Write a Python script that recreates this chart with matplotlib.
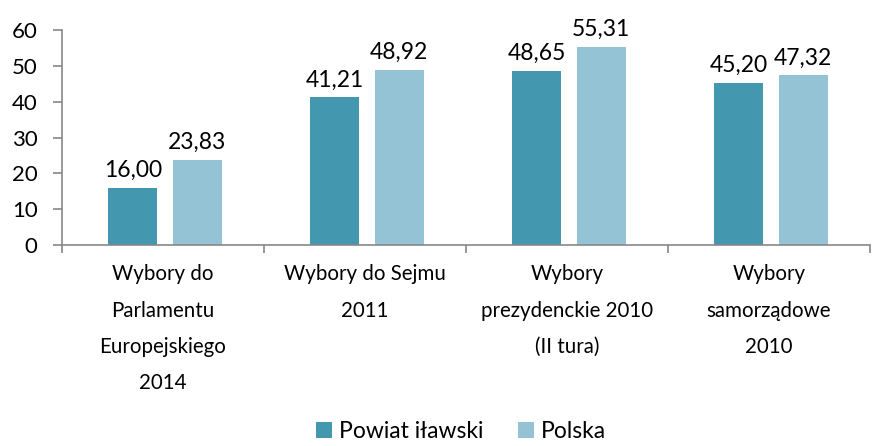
import matplotlib
matplotlib.use("Agg")
import matplotlib.pyplot as plt
import numpy as np

categories = ["Wybory do\nParlamentu\nEuropejskiego\n2014",
              "Wybory do Sejmu\n2011",
              "Wybory\nprezydenckie 2010\n(II tura)",
              "Wybory\nsamorządowe\n2010"]
powiat = [16.00, 41.21, 48.65, 45.20]
polska = [23.83, 48.92, 55.31, 47.32]
series_names = ["Powiat iławski", "Polska"]
colors = ["#4397AE", "#93C3D4"]

plt.rcParams['font.family'] = ['Lato', 'DejaVu Sans']

fig = plt.figure(figsize=(8.75, 4.46), dpi=100)
ax = fig.add_axes([62/875, 1-245/446, (870-62)/875, (245-30)/446])

x = np.arange(len(categories))
w = 0.245
off = 0.16
b1 = ax.bar(x - off + 0.01, powiat, w, color=colors[0], label=series_names[0])
b2 = ax.bar(x + off + 0.01, polska, w, color=colors[1], label=series_names[1])

def fmt(v):
    return f"{v:.2f}".replace(".", ",")

for bars, vals in ((b1, powiat), (b2, polska)):
    for r, v in zip(bars, vals):
        ax.annotate(fmt(v), (r.get_x() + r.get_width()/2, v), xytext=(0, 5),
                    textcoords="offset points", ha="center", va="bottom", fontsize=16.5)

ax.set_xlim(-0.5, len(categories) - 0.5)
ax.set_ylim(0, 60)
ax.set_yticks(range(0, 61, 10))
ax.tick_params(axis='y', labelsize=16, length=6.5, color="#888888", width=1.2, pad=11)

ax.set_xticks(x)
ax.set_xticklabels(categories, fontsize=14.8, linespacing=2.02)
ax.tick_params(axis='x', length=0, pad=14)
ax.set_xticks(np.arange(-0.5, len(categories) + 0.5, 1), minor=True)
ax.tick_params(axis='x', which='minor', length=6, color="#888888", width=1.2)

for s in ("top", "right"):
    ax.spines[s].set_visible(False)
for s in ("left", "bottom"):
    ax.spines[s].set_color("#888888")
    ax.spines[s].set_linewidth(1.2)

fig.legend(handles=[b1, b2], labels=series_names, loc="lower center", ncol=2,
           bbox_to_anchor=(0.527, -0.038), frameon=False, fontsize=16.5,
           handlelength=0.7, handleheight=0.7, columnspacing=1.5, handletextpad=0.3)

fig.savefig("out.png", dpi=100)
